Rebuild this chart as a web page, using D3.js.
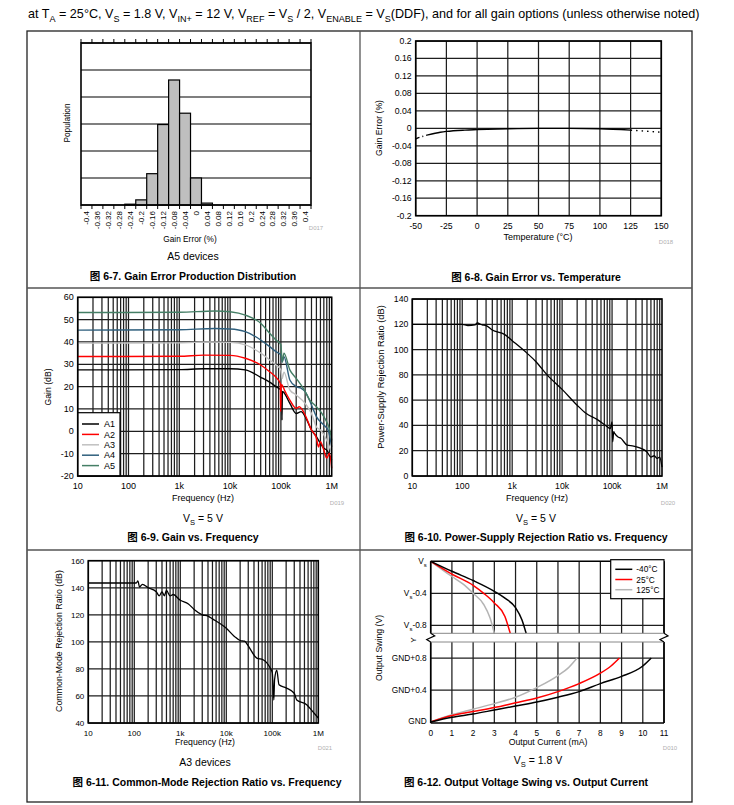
<!DOCTYPE html>
<html>
<head>
<meta charset="utf-8">
<script src="https://cdn.jsdelivr.net/npm/d3@7"></script>
<style>
    body { margin: 0; background: #fff; }
    text { font-family: "Liberation Sans", Arial, "Noto Sans CJK SC", sans-serif; }
</style>
</head>
<body>
<div id="chart"></div>
<script>
// -------------------------------------
// Data
// -------------------------------------

// 6-7 histogram (population, arbitrary units, grid every 10)
var histBins = ["-0.4", "-0.36", "-0.32", "-0.28", "-0.24", "-0.2", "-0.16", "-0.12", "-0.08", "-0.04", "0",
    "0.04", "0.08", "0.12", "0.16", "0.2", "0.24", "0.28", "0.32", "0.36", "0.4"]
var histCounts = [0, 0, 0, 0, 0.3, 1.9, 11.6, 29.8, 46.3, 34, 10, 0.7, 0, 0, 0, 0, 0, 0, 0, 0, 0]

// 6-8 gain error vs temperature
var tempC = [-50, -45, -40, -30, -25, -10, 0, 25, 50, 75, 100, 125, 135, 150]
var gainErrPct = [-0.024, -0.019, -0.015, -0.009, -0.007, -0.004, -0.003, -0.001, 0, 0, -0.001, -0.004, -0.006, -0.009]

// 6-9 gain vs frequency, [Hz, dB]
var gainA1 = [[10, 27.5], [1000, 27.6], [3000, 28], [10000, 28], [20000, 27.5], [40000, 24.2], [60000, 22], [80000, 20],
    [100000, 18.5], [104000, 17.5], [105000, 5], [107000, 17.8], [150000, 12.5], [200000, 8], [250000, 8.8], [300000, 6.6],
    [400000, 0.6], [500000, -2.4], [600000, -5.4], [700000, -7.6], [800000, -8.4], [900000, -10.6], [1000000, -12.8]]
var gainA2 = [[10, 33.5], [1000, 33.6], [3000, 34.1], [10000, 34], [20000, 32.7], [40000, 29.7], [60000, 26.7], [80000, 24.2],
    [97000, 21.5], [99000, 8.8], [102000, 21], [120000, 18], [150000, 14], [200000, 10.3], [230000, 11], [300000, 7.3],
    [400000, 0.6], [500000, -3], [550000, -7], [600000, -4.6], [700000, -8.4], [800000, -12], [900000, -9.8], [1000000, -16.6]]
var gainA3 = [[10, 39.5], [1000, 39.6], [4000, 40], [10000, 39.8], [20000, 38.7], [40000, 35], [60000, 32], [80000, 29.7],
    [100000, 27.5], [106000, 23.7], [115000, 26.5], [150000, 18.5], [200000, 16.3], [300000, 12.5], [400000, 8],
    [500000, 2], [600000, 0.6], [800000, -4], [1000000, -9.8]]
var gainA4 = [[10, 45.3], [1000, 45.5], [5000, 46], [10000, 45.8], [20000, 44.6], [40000, 40.9], [60000, 37.9], [80000, 35.7],
    [100000, 34.2], [106000, 31], [115000, 33.4], [150000, 23], [200000, 20], [250000, 19.3], [300000, 17.8],
    [400000, 11.8], [500000, 6.6], [700000, 2.8], [850000, 0.6], [1000000, -7]]
var gainA5 = [[10, 53.2], [1000, 53.3], [5000, 53.9], [10000, 53.5], [20000, 52], [40000, 48.4], [60000, 43.9], [80000, 40.9],
    [100000, 38.7], [106000, 31], [115000, 35], [150000, 27.5], [200000, 23.7], [280000, 19], [370000, 14],
    [500000, 11], [700000, 6.6], [950000, -1], [1000000, -4]]
var gainNames = ["A1", "A2", "A3", "A4", "A5"]
var gainColors = ["#000000", "#ff0000", "#c0c0c0", "#2f5f7d", "#457f66"]

// 6-10 PSRR vs frequency, [Hz, dB]
var psrr = [[10, 120], [100, 120], [130, 119], [180, 119.5], [200, 121], [250, 119.5], [300, 119], [400, 115.5],
    [700, 112], [1000, 107], [2000, 97], [3000, 90.4], [5000, 80], [10000, 68.5], [20000, 56], [30000, 49.6],
    [50000, 44.8], [80000, 39], [92000, 37.5], [100000, 42.7], [103000, 27], [108000, 35], [113000, 33.7],
    [130000, 31], [150000, 29.8], [200000, 24.5], [270000, 23.7], [370000, 22], [500000, 19], [600000, 15],
    [700000, 16], [800000, 14], [900000, 15], [1000000, 7]]

// 6-11 CMRR vs frequency, [Hz, dB]
var cmrr = [[10, 143.5], [110, 143.5], [120, 145], [130, 140.5], [150, 142.5], [200, 140], [300, 137], [350, 134],
    [400, 137], [450, 134], [500, 138], [600, 134], [700, 135], [1000, 130.7], [1500, 128], [2000, 124], [3000, 120],
    [4000, 119], [5000, 117], [10000, 110], [15000, 104], [20000, 101], [25000, 100.5], [30000, 97], [46000, 88],
    [63000, 86.8], [90000, 80.6], [100000, 77], [108000, 57], [112000, 72], [125000, 79], [140000, 68.3],
    [200000, 66], [300000, 62], [340000, 57], [560000, 53.5], [750000, 48.6], [1000000, 43.7]]

// 6-12 output swing, [mA, V below Vs] and [mA, V above GND]
var sourceM40 = [[0, 0], [1, 0.125], [2, 0.24], [3, 0.375], [3.5, 0.46], [4, 0.58], [4.3, 0.73], [4.5, 0.9]]
var source25 = [[0, 0], [1, 0.16], [2, 0.3], [2.5, 0.4], [3, 0.52], [3.5, 0.69], [3.75, 0.9]]
var source125 = [[0, 0], [1, 0.19], [1.5, 0.28], [2, 0.4], [2.5, 0.54], [2.8, 0.71], [3, 0.9]]
var sinkM40 = [[0, 0], [1, 0.06], [2, 0.10], [3, 0.15], [4, 0.20], [5, 0.25], [6, 0.31], [7, 0.38], [8, 0.48], [9, 0.57], [10, 0.70], [10.4, 0.80]]
var sink25 = [[0, 0], [1, 0.08], [2, 0.13], [3, 0.18], [4, 0.24], [5, 0.30], [6, 0.38], [7, 0.48], [8, 0.61], [8.5, 0.70], [8.9, 0.80]]
var sink125 = [[0, 0], [1, 0.09], [2, 0.16], [3, 0.23], [4, 0.31], [5, 0.43], [6, 0.58], [6.5, 0.68], [6.9, 0.80]]
var swingNames = ["-40°C", "25°C", "125°C"]
var swingColors = ["#000000", "#ff0000", "#b4b4b4"]

var logTicks = [10, 100, 1000, 10000, 100000, 1000000]
var logLabels = ["10", "100", "1k", "10k", "100k", "1M"]

// -------------------------------------
// Helpers
// -------------------------------------

var svg = d3.select("#chart").append("svg").attr("width", 734).attr("height", 805)
var GRID = "#1e1e1e"
var GRIDW = 1.25

// parts: [text, isSub]
function richText(x, y, parts, size, anchor, weight) {
    var t = svg.append("text").attr("x", x).attr("y", y)
        .attr("font-size", size).attr("text-anchor", anchor || "middle")
        .attr("font-weight", weight || "normal")
    var shift = size * 0.28
    var down = false
    parts.forEach(function (p) {
        var s = t.append("tspan").text(p[0])
        if (p[1] && !down) { s.attr("dy", shift).attr("font-size", size * 0.72); down = true }
        else if (p[1]) { s.attr("font-size", size * 0.72) }
        else if (down) { s.attr("dy", -shift); down = false }
    })
    return t
}

function label(x, y, str, size, anchor, opts) {
    opts = opts || {}
    var t = svg.append("text").attr("x", x).attr("y", y).attr("font-size", size)
        .attr("text-anchor", anchor || "middle").attr("fill", opts.fill || "#000")
        .attr("font-weight", opts.weight || "normal").text(str)
    if (opts.rotate) t.attr("transform", "rotate(-90," + x + "," + y + ")")
    return t
}

function caption(x, y, str) {
    label(x, y, "图 " + str, 10.5, "middle", { weight: "bold" })
}

function hline(g, x1, x2, y, color, w) {
    g.append("line").attr("x1", x1).attr("x2", x2).attr("y1", y).attr("y2", y)
        .attr("stroke", color).attr("stroke-width", w)
}
function vline(g, x, y1, y2, color, w) {
    g.append("line").attr("x1", x).attr("x2", x).attr("y1", y1).attr("y2", y2)
        .attr("stroke", color).attr("stroke-width", w)
}

// -------------------------------------
// Page frame and header
// -------------------------------------

richText(28, 18, [["at T"], ["A", 1], [" = 25°C, V"], ["S", 1], [" = 1.8 V, V"], ["IN+", 1], [" = 12 V, V"], ["REF", 1],
    [" = V"], ["S", 1], [" / 2, V"], ["ENABLE", 1], [" = V"], ["S", 1], ["(DDF), and for all gain options (unless otherwise noted)"]],
    12.6, "start")

var frame = svg.append("g")
frame.append("rect").attr("x", 27).attr("y", 31).attr("width", 665).attr("height", 771)
    .attr("fill", "none").attr("stroke", "#222").attr("stroke-width", 1.3)
vline(frame, 360, 31, 802, "#555", 1.3)
hline(frame, 27, 692, 288, "#555", 1.3)
hline(frame, 27, 692, 550, "#555", 1.3)

// -------------------------------------
// 6-7 Gain Error Production Distribution
// -------------------------------------

;(function () {
    var p = { l: 81, r: 311, t: 43, b: 205 }
    var g = svg.append("g")
    var x = d3.scaleBand().domain(histBins).range([p.l, p.r])
    var y = d3.scaleLinear().domain([0, 60]).range([p.b, p.t])

    y.ticks(6).forEach(function (v) { hline(g, p.l, p.r, y(v), "#000", 1.2) })

    g.selectAll(".bar").data(histBins).enter().append("rect")
        .attr("x", function (d) { return x(d) })
        .attr("width", x.bandwidth())
        .attr("y", function (d, i) { return y(histCounts[i]) })
        .attr("height", function (d, i) { return p.b - y(histCounts[i]) })
        .attr("fill", "#bfbfbf").attr("stroke", "#000").attr("stroke-width", 1.2)

    g.append("rect").attr("x", p.l).attr("y", p.t).attr("width", p.r - p.l).attr("height", p.b - p.t)
        .attr("fill", "none").attr("stroke", "#000").attr("stroke-width", 1.6)

    var edges = histBins.map(function (d) { return x(d) }).concat([p.r])
    edges.forEach(function (e) {
        vline(g, e, p.t - 4, p.t, "#000", 1)
        vline(g, e, p.b, p.b + 4, "#000", 1)
    })

    histBins.forEach(function (d) {
        var cx = x(d) + x.bandwidth() / 2 + 2.8
        label(cx, p.b + 6, d, 8, "end", { rotate: true })
    })

    label(190, 242, "Gain Error (%)", 8.3, "middle")
    label(316, 230, "D017", 6, "middle", { fill: "#b0b0b0" })
    label(70, 123, "Population", 8.3, "middle", { rotate: true })
    label(193, 260, "A5 devices", 10.5, "middle")
    caption(193, 280, "6-7. Gain Error Production Distribution")
})()

// -------------------------------------
// 6-8 Gain Error vs Temperature
// -------------------------------------

;(function () {
    var p = { l: 415.7, r: 661.3, t: 41, b: 215.7 }
    var g = svg.append("g")
    var x = d3.scaleLinear().domain([-50, 150]).range([p.l, p.r])
    var y = d3.scaleLinear().domain([-0.2, 0.2]).range([p.b, p.t])
    var xt = d3.range(-50, 151, 25)
    var yt = d3.range(-5, 6).map(function (k) { return +(k * 0.04).toFixed(2) })

    xt.forEach(function (v) { vline(g, x(v), p.t, p.b, GRID, GRIDW) })
    yt.forEach(function (v) { hline(g, p.l, p.r, y(v), GRID, GRIDW) })

    var pts = tempC.map(function (t, i) { return [t, gainErrPct[i]] })
    var line = d3.line().x(function (d) { return x(d[0]) }).y(function (d) { return y(d[1]) }).curve(d3.curveMonotoneX)
    g.append("path").datum(pts.filter(function (d) { return d[0] <= -40 }))
        .attr("d", line).attr("fill", "none").attr("stroke", "#000").attr("stroke-width", 1.4)
        .attr("stroke-dasharray", "4,3,1,3")
    g.append("path").datum(pts.filter(function (d) { return d[0] >= -40 && d[0] <= 125 }))
        .attr("d", line).attr("fill", "none").attr("stroke", "#000").attr("stroke-width", 1.4)
    g.append("path").datum(pts.filter(function (d) { return d[0] >= 125 }))
        .attr("d", line).attr("fill", "none").attr("stroke", "#000").attr("stroke-width", 1.4)
        .attr("stroke-dasharray", "1.5,4")

    g.append("rect").attr("x", p.l).attr("y", p.t).attr("width", p.r - p.l).attr("height", p.b - p.t)
        .attr("fill", "none").attr("stroke", "#000").attr("stroke-width", 1.6)

    xt.forEach(function (v) { label(x(v), p.b + 13, String(v), 8.7, "middle") })
    yt.forEach(function (v) { label(p.l - 4, y(v) + 3, String(v), 8.7, "end") })

    label(538, 240, "Temperature (°C)", 9, "middle")
    label(666, 244, "D018", 6, "middle", { fill: "#b0b0b0" })
    label(382, 128, "Gain Error (%)", 8.7, "middle", { rotate: true })
    caption(536, 281, "6-8. Gain Error vs. Temperature")
})()

// -------------------------------------
// Log-frequency panels
// -------------------------------------

function logPanel(p, yDomain, yStep, tickSize) {
    var g = svg.append("g")
    var x = d3.scaleLog().domain([10, 1e6]).range([p.l, p.r])
    var y = d3.scaleLinear().domain(yDomain).range([p.b, p.t])
    var yt = d3.range(yDomain[0], yDomain[1] + 0.1, yStep)

    for (var dec = 10; dec < 1e6; dec *= 10) {
        for (var k = 1; k <= 9; k++) vline(g, x(k * dec), p.t, p.b, GRID, GRIDW)
    }
    yt.forEach(function (v) { hline(g, p.l, p.r, y(v), GRID, GRIDW) })

    logTicks.forEach(function (v, i) { label(x(v), p.b + 13, logLabels[i], tickSize, "middle") })
    yt.forEach(function (v) { label(p.l - 4, y(v) + 3, String(v), tickSize, "end") })

    var line = d3.line().x(function (d) { return x(d[0]) }).y(function (d) { return y(d[1]) }).curve(d3.curveMonotoneX)
    return { g: g, x: x, y: y, line: line, p: p }
}

function frameRect(P) {
    var p = P.p
    P.g.append("rect").attr("x", p.l).attr("y", p.t).attr("width", p.r - p.l).attr("height", p.b - p.t)
        .attr("fill", "none").attr("stroke", "#000").attr("stroke-width", 1.6)
}

// 6-9 Gain vs Frequency
;(function () {
    var P = logPanel({ l: 77.7, r: 331.7, t: 297.3, b: 476 }, [-20, 60], 10, 9)
    var series = [gainA1, gainA2, gainA3, gainA4, gainA5]
    series.forEach(function (s, i) {
        P.g.append("path").datum(s).attr("d", P.line).attr("fill", "none")
            .attr("stroke", gainColors[i]).attr("stroke-width", 1.4)
    })
    // legend
    var lg = P.g.append("g")
    lg.append("rect").attr("x", 77.7).attr("y", 412.7).attr("width", 42.3).attr("height", 63.3)
        .attr("fill", "#fff").attr("stroke", "#000").attr("stroke-width", 1.2)
    gainNames.forEach(function (n, i) {
        var yy = 424 + i * 10.4
        hline(lg, 82, 99, yy, gainColors[i], 1.5)
        label(104, yy + 3.2, n, 9, "start")
    })
    frameRect(P)

    label(203, 501, "Frequency (Hz)", 9, "middle")
    label(337, 505, "D019", 6, "middle", { fill: "#b0b0b0" })
    label(51, 387, "Gain (dB)", 8.7, "middle", { rotate: true })
    richText(203, 522, [["V"], ["S", 1], [" = 5 V"]], 10.5, "middle")
    caption(193, 541, "6-9. Gain vs. Frequency")
})()

// 6-10 PSRR vs Frequency
;(function () {
    var P = logPanel({ l: 412.3, r: 662, t: 299, b: 476 }, [0, 140], 20, 8.7)
    P.g.append("path").datum(psrr).attr("d", P.line).attr("fill", "none")
        .attr("stroke", "#000").attr("stroke-width", 1.3)
    frameRect(P)

    label(537, 501, "Frequency (Hz)", 9, "middle")
    label(668, 505, "D020", 6, "middle", { fill: "#b0b0b0" })
    label(384, 377, "Power-Supply Rejection Ratio (dB)", 9.3, "middle", { rotate: true })
    richText(536, 522, [["V"], ["S", 1], [" = 5 V"]], 10.5, "middle")
    caption(536, 541, "6-10. Power-Supply Rejection Ratio vs. Frequency")
})()

// 6-11 CMRR vs Frequency
;(function () {
    var P = logPanel({ l: 88.3, r: 318.3, t: 560.7, b: 723 }, [40, 160], 20, 8)
    P.g.append("path").datum(cmrr).attr("d", P.line).attr("fill", "none")
        .attr("stroke", "#000").attr("stroke-width", 1.3)
    frameRect(P)

    label(205, 745, "Frequency (Hz)", 8.7, "middle")
    label(325, 750, "D021", 6, "middle", { fill: "#b0b0b0" })
    label(62, 641, "Common-Mode Rejection Ratio (dB)", 8.8, "middle", { rotate: true })
    label(205, 766, "A3 devices", 10.5, "middle")
    caption(207, 786, "6-11. Common-Mode Rejection Ratio vs. Frequency")
})()

// -------------------------------------
// 6-12 Output Voltage Swing vs Output Current
// -------------------------------------

;(function () {
    var p = { l: 430.7, r: 664, t: 561.3, b: 723 }
    var upB = 633.3, loT = 642
    var g = svg.append("g")
    var x = d3.scaleLinear().domain([0, 11]).range([p.l, p.r])
    var yU = d3.scaleLinear().domain([-0.9, 0]).range([upB, p.t])
    var yL = d3.scaleLinear().domain([0, 1]).range([722, loT])

    d3.range(0, 12).forEach(function (v) {
        vline(g, x(v), p.t, upB, GRID, GRIDW)
        vline(g, x(v), loT, p.b, GRID, GRIDW)
    })
    hline(g, p.l, p.r, yU(-0.4), GRID, GRIDW)
    hline(g, p.l, p.r, yU(-0.8), GRID, GRIDW)
    hline(g, p.l, p.r, yL(0.4), GRID, GRIDW)
    hline(g, p.l, p.r, yL(0.8), GRID, GRIDW)

    var lineU = d3.line().x(function (d) { return x(d[0]) }).y(function (d) { return yU(-d[1]) }).curve(d3.curveMonotoneX)
    var lineL = d3.line().x(function (d) { return x(d[0]) }).y(function (d) { return yL(d[1]) }).curve(d3.curveMonotoneX)
    ;[source125, source25, sourceM40].forEach(function (s, i) {
        g.append("path").datum(s).attr("d", lineU).attr("fill", "none")
            .attr("stroke", swingColors[2 - i]).attr("stroke-width", 1.5)
    })
    ;[sink125, sink25, sinkM40].forEach(function (s, i) {
        g.append("path").datum(s).attr("d", lineL).attr("fill", "none")
            .attr("stroke", swingColors[2 - i]).attr("stroke-width", 1.5)
    })

    // borders with axis break
    hline(g, p.l, p.r, p.t, "#000", 1.6)
    hline(g, p.l, p.r, p.b, "#000", 1.6)
    vline(g, p.l, p.t, upB, "#000", 1.6)
    vline(g, p.r, p.t, upB, "#000", 1.6)
    vline(g, p.l, loT, p.b, "#000", 1.6)
    vline(g, p.r, loT, p.b, "#000", 1.6)
    hline(g, p.l, p.r, upB, "#888", 1)
    hline(g, p.l, p.r, loT, "#888", 1)
    ;[p.l, p.r].forEach(function (ex) {
        g.append("path").attr("d", "M" + ex + "," + upB + " L" + (ex + 4) + "," + (upB + 2.5) + " L" + (ex - 4) + "," + (loT - 2.5) + " L" + ex + "," + loT)
            .attr("fill", "none").attr("stroke", "#000").attr("stroke-width", 1.2)
    })

    // legend
    g.append("rect").attr("x", 610.7).attr("y", 559.7).attr("width", 53.3).attr("height", 39)
        .attr("fill", "#fff").attr("stroke", "#000").attr("stroke-width", 1.2)
    swingNames.forEach(function (n, i) {
        var yy = 569.3 + i * 10.2
        hline(g, 615.3, 632.3, yy, swingColors[i], 1.5)
        label(636.3, yy + 3, n, 8.3, "start")
    })

    d3.range(0, 12).forEach(function (v) { label(x(v), p.b + 13, String(v), 8.3, "middle") })
    richText(p.l - 4, yU(0) + 3, [["V"], ["s", 1]], 8.3, "end")
    richText(p.l - 4, yU(-0.4) + 3, [["V"], ["s", 1], ["-0.4"]], 8.3, "end")
    richText(p.l - 4, yU(-0.8) + 3, [["V"], ["s", 1], ["-0.8"]], 8.3, "end")
    label(p.l - 4, yL(0) + 2, "GND", 8.3, "end")
    label(p.l - 4, yL(0.4) + 3, "GND+0.4", 8.3, "end")
    label(p.l - 4, yL(0.8) + 3, "GND+0.8", 8.3, "end")
    label(416, 640, "Y", 8, "middle", { rotate: true })

    label(548, 745, "Output Current (mA)", 8.7, "middle")
    label(670, 750, "D010", 6, "middle", { fill: "#b0b0b0" })
    label(382, 648, "Output Swing (V)", 8.7, "middle", { rotate: true })
    richText(538, 764, [["V"], ["S", 1], [" = 1.8 V"]], 10.5, "middle")
    caption(526, 786, "6-12. Output Voltage Swing vs. Output Current")
})()
</script>
</body>
</html>
